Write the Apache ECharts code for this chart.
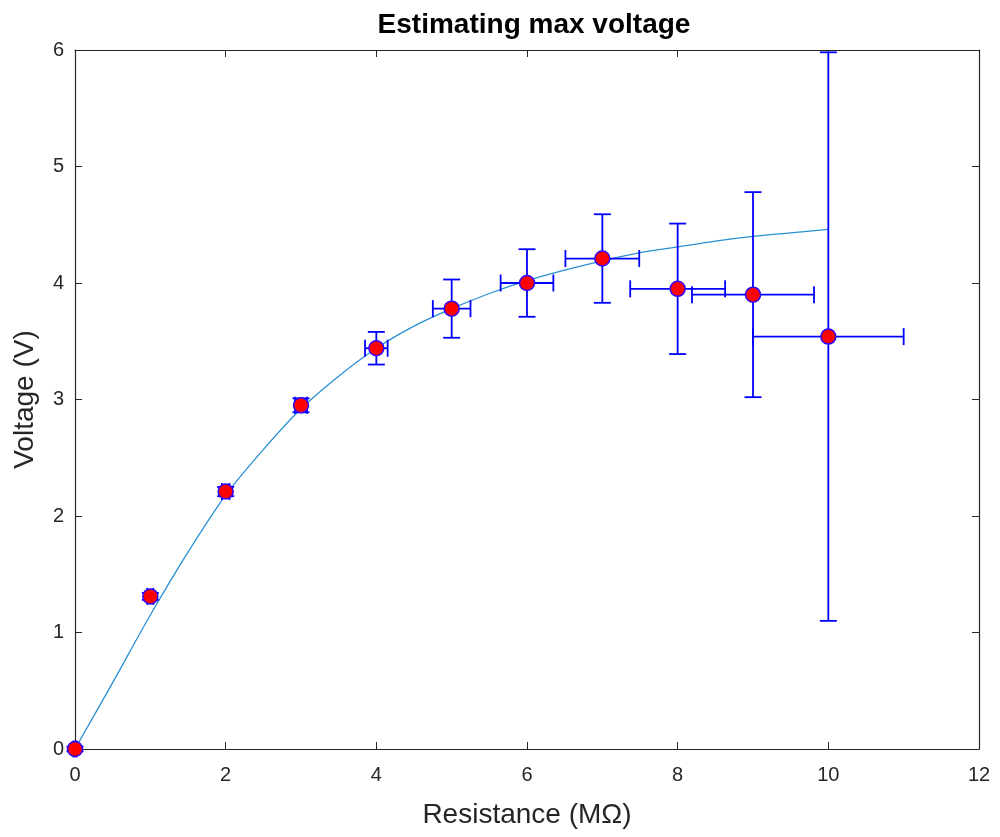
<!DOCTYPE html>
<html>
<head>
<meta charset="utf-8">
<script src="https://cdn.jsdelivr.net/npm/echarts@6/dist/echarts.min.js"></script>
<style>html,body{margin:0;padding:0;background:#fff;}#c{width:1000px;height:837px;}</style>
</head>
<body>
<div id="c"></div>
<script>
// measured data
const resistance = [0, 1, 2, 3, 4, 5, 6, 7, 8, 9, 10];
const voltage = [0, 1.31, 2.21, 2.95, 3.44, 3.78, 4.00, 4.21, 3.95, 3.90, 3.54];
const xErr = [0.02, 0.04, 0.05, 0.08, 0.15, 0.25, 0.35, 0.49, 0.63, 0.81, 1.0];
const yErr = [0.02, 0.03, 0.04, 0.06, 0.14, 0.25, 0.29, 0.38, 0.56, 0.88, 2.44];
// fitted curve
const fitR = [0, 0.5, 1, 1.5, 2, 2.5, 3, 3.5, 4, 4.5, 5, 5.5, 6, 6.5, 7, 7.5, 8, 8.5, 9, 9.5, 10];
const fitV = [0, 0.57, 1.15, 1.69, 2.18, 2.57, 2.92, 3.20, 3.44, 3.63, 3.78, 3.91, 4.02, 4.11, 4.19, 4.26, 4.31, 4.36, 4.40, 4.43, 4.46];
const xTicks = [0, 2, 4, 6, 8, 10, 12];
const yTicks = [0, 1, 2, 3, 4, 5, 6];

const FONT = 'Liberation Sans, Arial, Helvetica, sans-serif';
const AX = '#262626';
const CAP = 8.5;

const chart = echarts.init(document.getElementById('c'), null, {renderer: 'canvas'});
const errData = resistance.map((r, i) => [r, voltage[i], xErr[i], yErr[i]]);

function renderErr(params, api) {
  const x = api.value(0), y = api.value(1), ex = api.value(2), ey = api.value(3);
  const top = api.coord([x, y + ey]);
  const bot = api.coord([x, y - ey]);
  const left = api.coord([x - ex, y]);
  const right = api.coord([x + ex, y]);
  const st = {stroke: '#0000ff', lineWidth: 1.8};
  const line = (x1, y1, x2, y2) => ({type: 'line', shape: {x1, y1, x2, y2}, style: st});
  return {
    type: 'group',
    children: [
      line(top[0], top[1], bot[0], bot[1]),
      line(top[0] - CAP, top[1], top[0] + CAP, top[1]),
      line(bot[0] - CAP, bot[1], bot[0] + CAP, bot[1]),
      line(left[0], left[1], right[0], right[1]),
      line(left[0], left[1] - CAP, left[0], left[1] + CAP),
      line(right[0], right[1] - CAP, right[0], right[1] + CAP)
    ]
  };
}

const baseAxis = {
  axisLine: {show: true, onZero: false, lineStyle: {color: AX, width: 1.2}},
  axisTick: {show: true, inside: true, length: 7, lineStyle: {color: AX, width: 1}},
  splitLine: {show: false}
};

chart.setOption({
  animation: false,
  backgroundColor: '#ffffff',
  title: {
    text: 'Estimating max voltage',
    left: 529, textAlign: 'center', top: 6,
    textStyle: {fontFamily: FONT, fontSize: 28, fontWeight: 'bold', color: '#000'}
  },
  grid: {left: 75, right: 21, top: 50, bottom: 88, containLabel: false},
  xAxis: [
    Object.assign({}, baseAxis, {
      type: 'value', min: xTicks[0], max: xTicks[xTicks.length - 1], interval: 2, position: 'bottom',
      name: 'Resistance (M\u03A9)', nameLocation: 'middle', nameGap: 52,
      nameTextStyle: {fontFamily: FONT, fontSize: 28, color: AX},
      axisLabel: {fontFamily: FONT, fontSize: 20, color: AX, margin: 16}
    }),
    Object.assign({}, baseAxis, {
      type: 'value', min: 0, max: 12, interval: 2, position: 'top',
      axisLabel: {show: false}
    })
  ],
  yAxis: [
    Object.assign({}, baseAxis, {
      type: 'value', min: yTicks[0], max: yTicks[yTicks.length - 1], interval: 1, position: 'left',
      name: 'Voltage (V)', nameLocation: 'middle', nameGap: 36,
      nameTextStyle: {fontFamily: FONT, fontSize: 28, color: AX},
      axisLabel: {fontFamily: FONT, fontSize: 20, color: AX, margin: 11}
    }),
    Object.assign({}, baseAxis, {
      type: 'value', min: 0, max: 6, interval: 1, position: 'right',
      axisLabel: {show: false}
    })
  ],
  series: [
    {
      type: 'line', data: fitR.map((r, i) => [r, fitV[i]]), smooth: 0.3, showSymbol: false,
      lineStyle: {color: '#2a90d4', width: 1.3}, z: 2
    },
    {
      type: 'custom', data: errData, renderItem: renderErr, clip: false, z: 3,
      encode: {x: 0, y: 1}
    },
    {
      type: 'scatter', data: resistance.map((r, i) => [r, voltage[i]]), symbol: 'circle', symbolSize: 15,
      clip: false, z: 4,
      itemStyle: {color: '#ff0000', borderColor: '#2a00ff', borderWidth: 1.5, opacity: 1}
    }
  ]
});
</script>
</body>
</html>
